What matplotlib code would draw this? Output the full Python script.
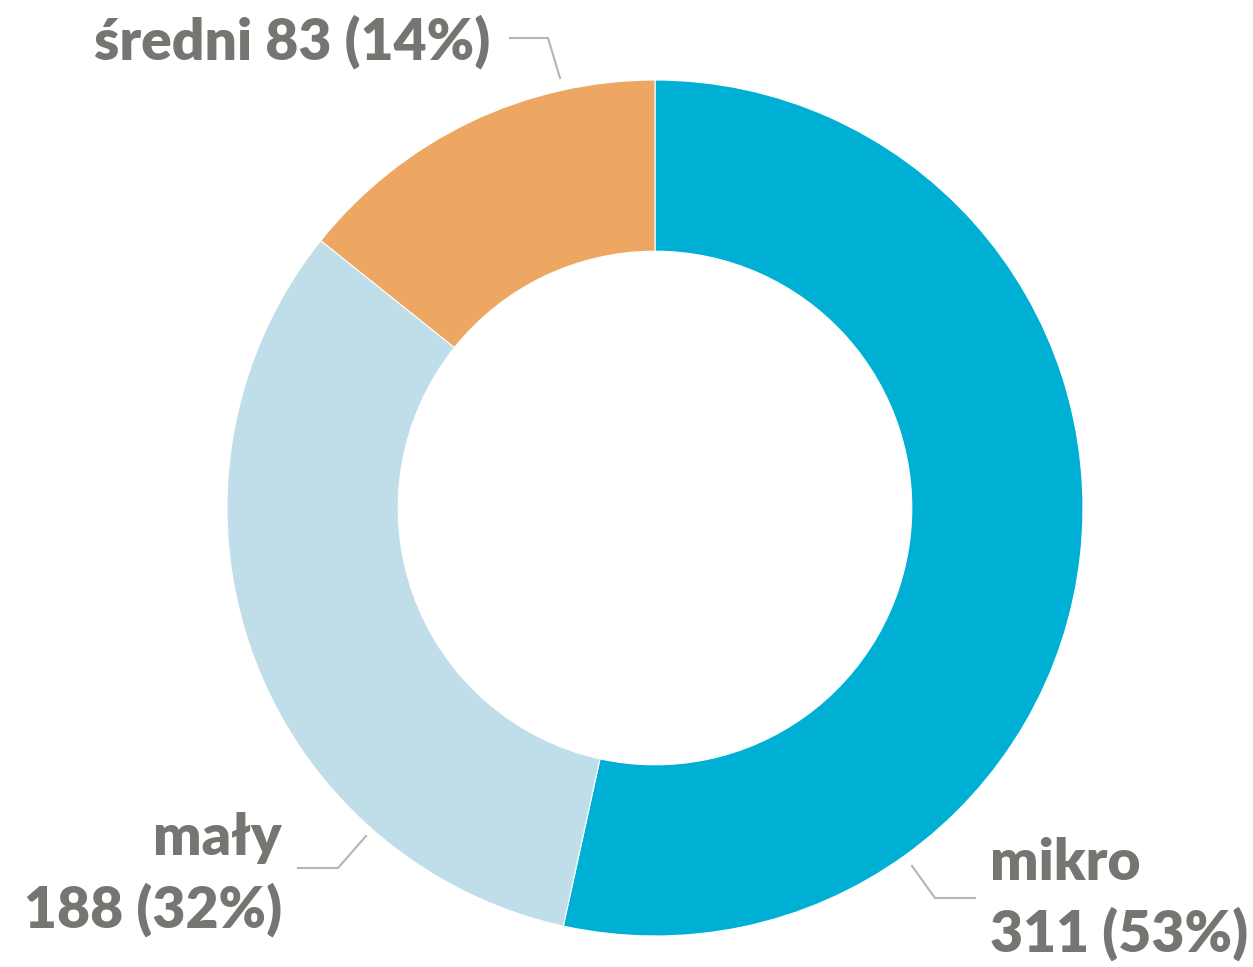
import numpy as np
import matplotlib
matplotlib.use('Agg')
from matplotlib import pyplot as plt

labels = ["mikro", "mały", "średni"]
values = [311, 188, 83]
percents = [53, 32, 14]
colors = ["#00B0D4", "#C0DEEA", "#EEA663"]

text_color = "#767571"
line_color = "#B5B5B5"

W, H = 1253, 967
fig = plt.figure(figsize=(W / 100, H / 100), dpi=100)
ax = fig.add_axes([0, 0, 1, 1])

# pie in pixel coordinates (y up)
cx, cy, r = 655, H - 508, 428
ax.pie(values, colors=colors, startangle=90, counterclock=False,
       center=(cx, cy), radius=r, frame=True,
       wedgeprops=dict(width=r * 0.4, edgecolor='white', linewidth=0.8))
ax.set_xlim(0, W)
ax.set_ylim(0, H)
ax.set_aspect('equal')
ax.axis('off')

fs = 41
font = dict(family=['Lato', 'DejaVu Sans'], weight='heavy', color=text_color, fontsize=fs)

# średni
ax.text(94, H - 42, f"{labels[2]} {values[2]} ({percents[2]}%)", ha='left', va='center', **font)
ax.plot([510, 548, 560], [H - 38, H - 38, H - 78], color=line_color, lw=1.5)

# mały
ax.text(282, H - 838, labels[1], ha='right', va='center', **font)
ax.text(282, H - 910, f"{values[1]} ({percents[1]}%)", ha='right', va='center', **font)
ax.plot([298, 338, 366], [H - 868, H - 868, H - 836], color=line_color, lw=1.5)

# mikro
ax.text(990, H - 863, labels[0], ha='left', va='center', **font)
ax.text(990, H - 934, f"{values[0]} ({percents[0]}%)", ha='left', va='center', **font)
ax.plot([912, 935, 975], [H - 866, H - 898, H - 898], color=line_color, lw=1.5)

plt.savefig("out.png", dpi=100)
